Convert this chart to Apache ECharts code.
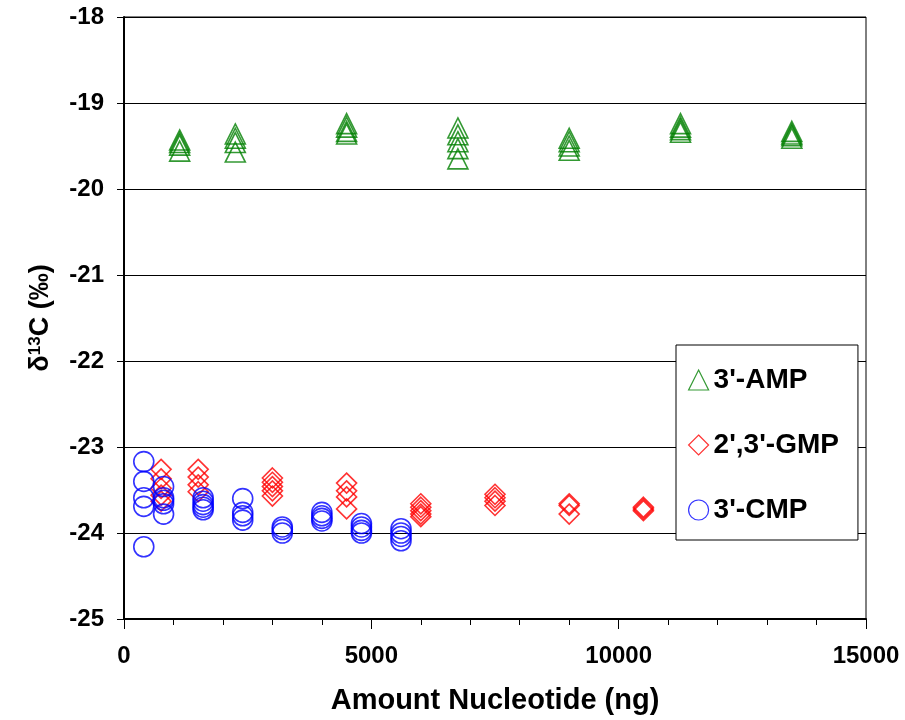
<!DOCTYPE html>
<html>
<head>
<meta charset="utf-8">
<script src="https://cdn.jsdelivr.net/npm/echarts@6/dist/echarts.min.js"></script>
<style>
  html, body { margin: 0; padding: 0; background: #fff; }
  #chart { width: 905px; height: 720px; }
</style>
</head>
<body>
<div id="chart"></div>
<script>
// 3'-AMP (triangles)
var ampX = [1125, 1125, 1125, 1125, 2250, 2250, 2250, 2250, 4500, 4500, 4500, 4500,
    6750, 6750, 6750, 6750, 6750, 9000, 9000, 9000, 9000, 11250, 11250, 11250, 11250,
    13500, 13500, 13500, 13500];
var ampY = [-19.43, -19.46, -19.49, -19.56, -19.36, -19.41, -19.46, -19.57, -19.24, -19.28, -19.33, -19.36,
    -19.29, -19.37, -19.45, -19.53, -19.65, -19.41, -19.45, -19.50, -19.55, -19.24, -19.28, -19.31, -19.34,
    -19.33, -19.36, -19.38, -19.41];

// 2',3'-GMP (diamonds)
var gmpX = [750, 750, 750, 750, 750, 1500, 1500, 1500, 1500, 3000, 3000, 3000, 3000, 3000,
    4500, 4500, 4500, 4500, 6000, 6000, 6000, 6000, 6000, 7500, 7500, 7500, 7500,
    9000, 9000, 9000, 10500, 10500, 10500];
var gmpY = [-23.26, -23.37, -23.48, -23.56, -23.63, -23.26, -23.35, -23.44, -23.52, -23.36, -23.41, -23.46, -23.51, -23.57,
    -23.42, -23.51, -23.58, -23.72, -23.66, -23.70, -23.74, -23.78, -23.81, -23.55, -23.59, -23.63, -23.68,
    -23.66, -23.68, -23.78, -23.70, -23.72, -23.74];

// 3'-CMP (circles)
var cmpX = [400, 400, 400, 400, 400, 800, 800, 800, 800, 800, 1600, 1600, 1600, 1600, 1600,
    2400, 2400, 2400, 2400, 3200, 3200, 3200, 4000, 4000, 4000, 4000,
    4800, 4800, 4800, 4800, 5600, 5600, 5600, 5600];
var cmpY = [-23.17, -23.40, -23.59, -23.69, -24.16, -23.46, -23.59, -23.62, -23.66, -23.78, -23.59, -23.63, -23.67, -23.70, -23.73,
    -23.60, -23.76, -23.80, -23.85, -23.93, -23.96, -24.00, -23.76, -23.80, -23.83, -23.86,
    -23.89, -23.93, -23.97, -24.00, -23.95, -24.00, -24.04, -24.09];

var xTicks = [0, 5000, 10000, 15000];
var yTicks = [-25, -24, -23, -22, -21, -20, -19, -18];

var FONT = '"Liberation Sans", Arial, sans-serif';

function zip(xs, ys) {
    return xs.map(function (x, i) { return [x, ys[i]]; });
}

function hollowSeries(name, symbol, color, xs, ys) {
    return {
        name: name,
        type: 'scatter',
        symbol: symbol,
        symbolSize: 20,
        itemStyle: {
            color: 'rgba(0,0,0,0)',
            borderColor: color,
            borderWidth: 1.6
        },
        emphasis: { disabled: true },
        data: zip(xs, ys)
    };
}

var chart = echarts.init(document.getElementById('chart'));
chart.setOption({
    animation: false,
    backgroundColor: '#fff',
    grid: {
        left: 124,
        right: 39,
        top: 17,
        bottom: 99,
        show: true,
        borderColor: '#000',
        borderWidth: 1
    },
    legend: {
        orient: 'vertical',
        left: 676,
        top: 345,
        padding: [20, 19, 15, 12],
        itemGap: 35,
        itemWidth: 20,
        itemHeight: 20,
        backgroundColor: '#fff',
        borderColor: '#000',
        borderWidth: 1,
        borderRadius: 0,
        itemStyle: { borderWidth: 1.2 },
        textStyle: {
            fontFamily: FONT,
            fontWeight: 'bold',
            fontSize: 28,
            lineHeight: 30,
            color: '#000'
        },
        data: ["3'-AMP", "2',3'-GMP", "3'-CMP"]
    },
    xAxis: {
        type: 'value',
        min: xTicks[0],
        max: xTicks[xTicks.length - 1],
        interval: 5000,
        name: 'Amount Nucleotide (ng)',
        nameLocation: 'middle',
        nameGap: 67,
        nameTextStyle: { fontFamily: FONT, fontWeight: 'bold', fontSize: 29, color: '#000' },
        axisLine: { lineStyle: { color: '#000', width: 2 } },
        axisTick: { show: true, length: 10, lineStyle: { color: '#000', width: 1 } },
        minorTick: { show: true, splitNumber: 5, length: 6, lineStyle: { color: '#000', width: 1 } },
        axisLabel: {
            margin: 25,
            fontFamily: FONT, fontWeight: 'bold', fontSize: 24, color: '#000',
            showMinLabel: true, showMaxLabel: true,
            formatter: function (v) { return String(v); }
        },
        splitLine: { show: false }
    },
    yAxis: [{
        type: 'value',
        position: 'left',
        min: yTicks[0],
        max: yTicks[yTicks.length - 1],
        interval: 1,
        name: '{a|δ}{b|13}{a|C (‰)}',
        nameLocation: 'middle',
        nameGap: 70,
        nameTextStyle: {
            rich: {
                a: { fontFamily: FONT, fontWeight: 'bold', fontSize: 27, color: '#000' },
                b: { fontFamily: FONT, fontWeight: 'bold', fontSize: 17, color: '#000', verticalAlign: 'top' }
            }
        },
        axisLine: { lineStyle: { color: '#000', width: 2 } },
        axisTick: { show: true, length: 7, lineStyle: { color: '#000', width: 1 } },
        axisLabel: {
            margin: 20,
            fontFamily: FONT, fontWeight: 'bold', fontSize: 24, color: '#000'
        },
        splitLine: { show: true, lineStyle: { color: '#000', width: 1 } }
    }, {
        // inner half of the crossing ticks
        type: 'value',
        position: 'left',
        min: yTicks[0],
        max: yTicks[yTicks.length - 1],
        interval: 1,
        axisLine: { show: false },
        axisTick: { show: true, inside: true, length: 6, lineStyle: { color: '#000', width: 1 } },
        axisLabel: { show: false },
        splitLine: { show: false }
    }],
    series: [
        hollowSeries("3'-AMP", 'triangle', '#008000', ampX, ampY),
        hollowSeries("2',3'-GMP", 'diamond', '#ff0000', gmpX, gmpY),
        hollowSeries("3'-CMP", 'circle', '#0000ff', cmpX, cmpY)
    ]
});
</script>
</body>
</html>
